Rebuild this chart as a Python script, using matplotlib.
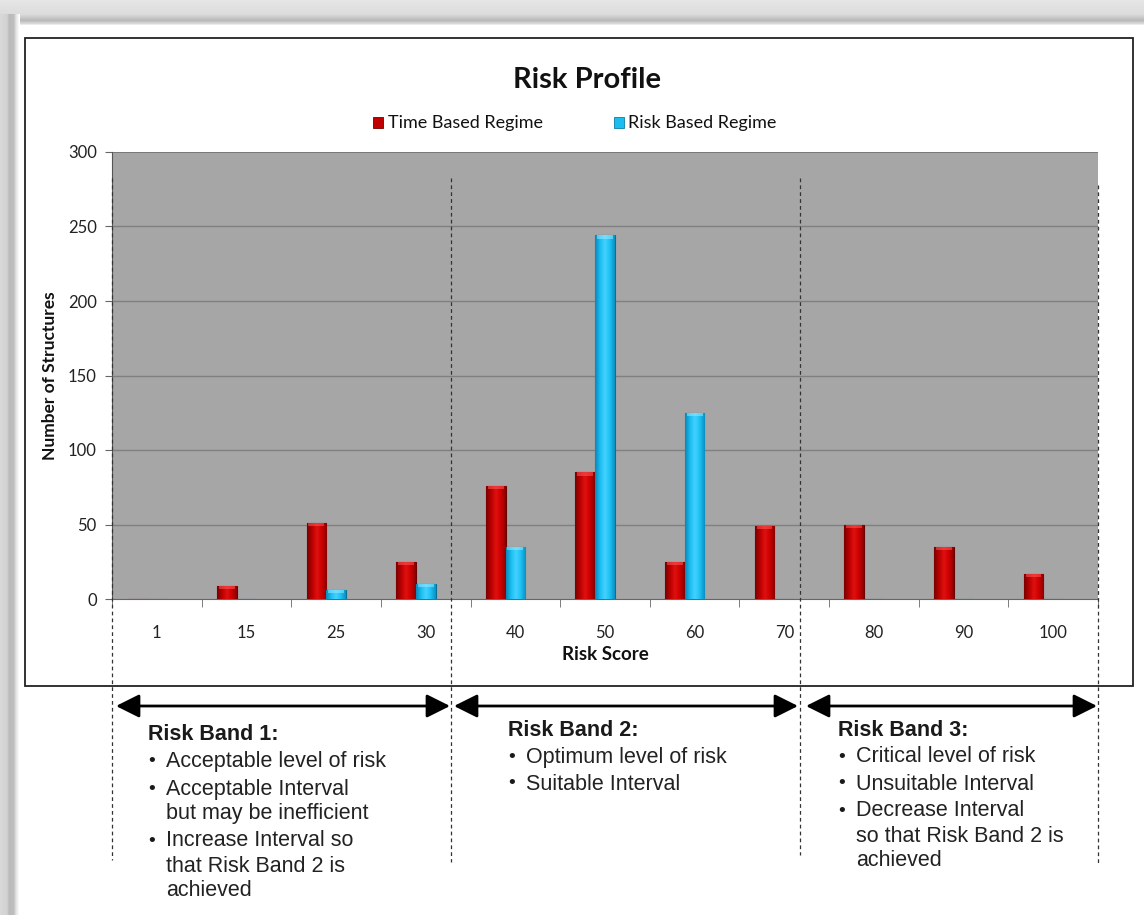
import numpy as np
import matplotlib
matplotlib.use("Agg")
import matplotlib.pyplot as plt
from matplotlib.patches import Rectangle, FancyArrowPatch
from matplotlib.colors import LinearSegmentedColormap

# --- data ---
risk_scores = ["1", "15", "25", "30", "40", "50", "60", "70", "80", "90", "100"]
time_based = [0, 9, 51, 25, 76, 85, 25, 49, 50, 35, 17]
risk_based = [0, 0, 6, 10, 35, 244, 125, 0, 0, 0, 0]
series_names = ["Time Based Regime", "Risk Based Regime"]
y_ticks = [0, 50, 100, 150, 200, 250, 300]

band_titles = ["Risk Band 1:", "Risk Band 2:", "Risk Band 3:"]
band_bullets = [
    ["Acceptable level of risk", "Acceptable Interval\nbut may be inefficient",
     "Increase Interval so\nthat Risk Band 2 is\nachieved"],
    ["Optimum level of risk", "Suitable Interval"],
    ["Critical level of risk", "Unsuitable Interval",
     "Decrease Interval\nso that Risk Band 2 is\nachieved"],
]

W, H = 1144, 915
fig = plt.figure(figsize=(W / 100, H / 100), dpi=100)
fig.patch.set_facecolor("white")

# overlay axes in pixel coordinates for frame, arrows and notes
over = fig.add_axes([0, 0, 1, 1], zorder=0)
over.set_xlim(0, W)
over.set_ylim(H, 0)
over.axis("off")

# soft grey page border
top_grad = np.linspace(0, 1, 26).reshape(-1, 1)
top_cmap = LinearSegmentedColormap.from_list(
    "top", [(0, "#e6e6e6"), (0.55, "#dcdcdc"), (0.8, "#b9b9b9"), (0.92, "#d8d8d8"), (1, "#ffffff")])
over.imshow(top_grad, extent=(0, W, 26, 0), cmap=top_cmap, aspect="auto", zorder=1)
left_grad = np.linspace(0, 1, 20).reshape(1, -1)
left_cmap = LinearSegmentedColormap.from_list(
    "left", [(0, "#d8d8d8"), (0.35, "#d2d2d2"), (0.45, "#bababa"), (0.7, "#bfbfbf"), (0.85, "#e8e8e8"), (1, "#ffffff")])
over.imshow(left_grad, extent=(0, 20, H, 14), cmap=left_cmap, aspect="auto", zorder=1)

# chart frame
over.add_patch(Rectangle((25, 38), 1108, 648, fill=False, ec="#222222", lw=1.3, zorder=2))

# title and legend
font_c = ["Lato", "Open Sans", "DejaVu Sans"]
fig.text(587 / W, 1 - 80 / H, "Risk Profile", ha="center", va="center",
         fontsize=21, fontweight="bold", family=font_c, color="#111111")

red_main = "#c00000"
cyan_main = "#19bdf0"
over.add_patch(Rectangle((373, 117), 10, 11, fc=red_main, ec="#700000", lw=0.6, zorder=3))
over.text(388, 123, series_names[0], ha="left", va="center", fontsize=13, family=font_c, color="#111111")
over.add_patch(Rectangle((614, 117), 10, 11, fc=cyan_main, ec="#0b7fa6", lw=0.6, zorder=3))
over.text(628, 123, series_names[1], ha="left", va="center", fontsize=13, family=font_c, color="#111111")

# plot area
L, R, T, B = 112, 1098, 152, 599
ax = fig.add_axes([L / W, 1 - B / H, (R - L) / W, (B - T) / H], zorder=2)
ax.set_facecolor("#a6a6a6")
n = len(risk_scores)
x = np.arange(n)
ax.set_xlim(-0.5, n - 0.5)
ax.set_ylim(0, 300)
ax.set_yticks(y_ticks)
ax.set_yticklabels([str(v) for v in y_ticks], family=font_c, fontsize=12, color="#222222")
ax.set_xticks(x)
ax.set_xticklabels(risk_scores, family=font_c, fontsize=12, color="#222222")
ax.set_xticks(np.arange(-0.5, n, 1.0), minor=True)
ax.tick_params(axis="x", which="major", length=0, pad=19)
ax.tick_params(axis="x", which="minor", length=6, direction="out", color="#666666")
ax.tick_params(axis="y", length=5, direction="out", color="#666666", pad=6)
for v in y_ticks[1:-1]:
    ax.axhline(v, color="#808080", lw=1.0, zorder=1)
for side in ["top", "right"]:
    ax.spines[side].set_visible(False)
ax.spines["left"].set_color("#555555")
ax.spines["bottom"].set_color("#666666")
ax.axhline(300, color="#707070", lw=1.2, zorder=1)

ax.set_xlabel("Risk Score", family=font_c, fontsize=13.5, fontweight="bold", labelpad=3, color="#111111")
ax.set_ylabel("Number of Structures", family=font_c, fontsize=12.5, fontweight="bold", labelpad=7, color="#111111")

bw = 0.22
red_cmap = LinearSegmentedColormap.from_list(
    "redbar", ["#7a0000", "#b80000", "#e01010", "#cc0000", "#8a0000"])
cyan_cmap = LinearSegmentedColormap.from_list(
    "cyanbar", ["#0a86b8", "#19bdf0", "#45d2ff", "#1cc0f2", "#0b8fc2"])
grad = np.linspace(0, 1, 64).reshape(1, -1)


def shaded_bars(xs, vals, cmap, edge, cap):
    bars = ax.bar(xs, vals, width=bw, color=cmap(0.5), edgecolor=edge, lw=0.8, zorder=3)
    for patch, v in zip(bars, vals):
        if v <= 0:
            continue
        x0 = patch.get_x()
        im = ax.imshow(grad, extent=(x0, x0 + bw, 0, v), cmap=cmap, aspect="auto", zorder=3)
        im.set_clip_path(patch)
        ax.add_patch(Rectangle((x0 + bw * 0.1, v - 2.2), bw * 0.8, 2.2,
                               fc=cap, ec="none", alpha=0.55, zorder=4))
    return bars


shaded_bars(x - bw, time_based, red_cmap, "#6a0000", "#ff5a5a")
shaded_bars(x, risk_based, cyan_cmap, "#0a6f95", "#9be8ff")
ax.set_xlim(-0.5, n - 0.5)
ax.set_ylim(0, 300)

# band separators, drawn over everything
top_ax = fig.add_axes([0, 0, 1, 1], zorder=5)
top_ax.set_xlim(0, W)
top_ax.set_ylim(H, 0)
top_ax.axis("off")
top_ax.patch.set_alpha(0)
seps = [(112, 178, 860), (451, 178, 862), (800, 178, 855), (1098, 185, 865)]
for sx, y0, y1 in seps:
    top_ax.plot([sx, sx], [y0, y1], ls=(0, (3, 2.5)), color="#333333", lw=0.9)

# double-headed arrows
arrows = [(116, 450), (454, 798), (806, 1097)]
for a, b in arrows:
    top_ax.add_patch(FancyArrowPatch((a, 706), (b, 706), arrowstyle="<|-|>,head_length=11,head_width=5.5",
                                     color="black", lw=2.0, mutation_scale=1.3,
                                     shrinkA=0, shrinkB=0))

# band notes
font_a = ["Liberation Sans", "Arial", "DejaVu Sans"]
band_x = [148, 508, 838]
band_y = [735, 730, 730]
line_h = 25
for bx, by, title, bullets in zip(band_x, band_y, band_titles, band_bullets):
    top_ax.text(bx, by, title, ha="left", va="center", fontsize=15.5, fontweight="bold",
                family=font_a, color="#1a1a1a")
    yy = by + 27
    for item in bullets:
        lines = item.split("\n")
        top_ax.text(bx + 0, yy, "\u2022", ha="left", va="center", fontsize=14, family=font_a, color="#1a1a1a")
        for ln in lines:
            top_ax.text(bx + 18, yy, ln, ha="left", va="center", fontsize=15.5, family=font_a, color="#222222")
            yy += line_h
        yy += 2

fig.savefig("out.png", dpi=100)
